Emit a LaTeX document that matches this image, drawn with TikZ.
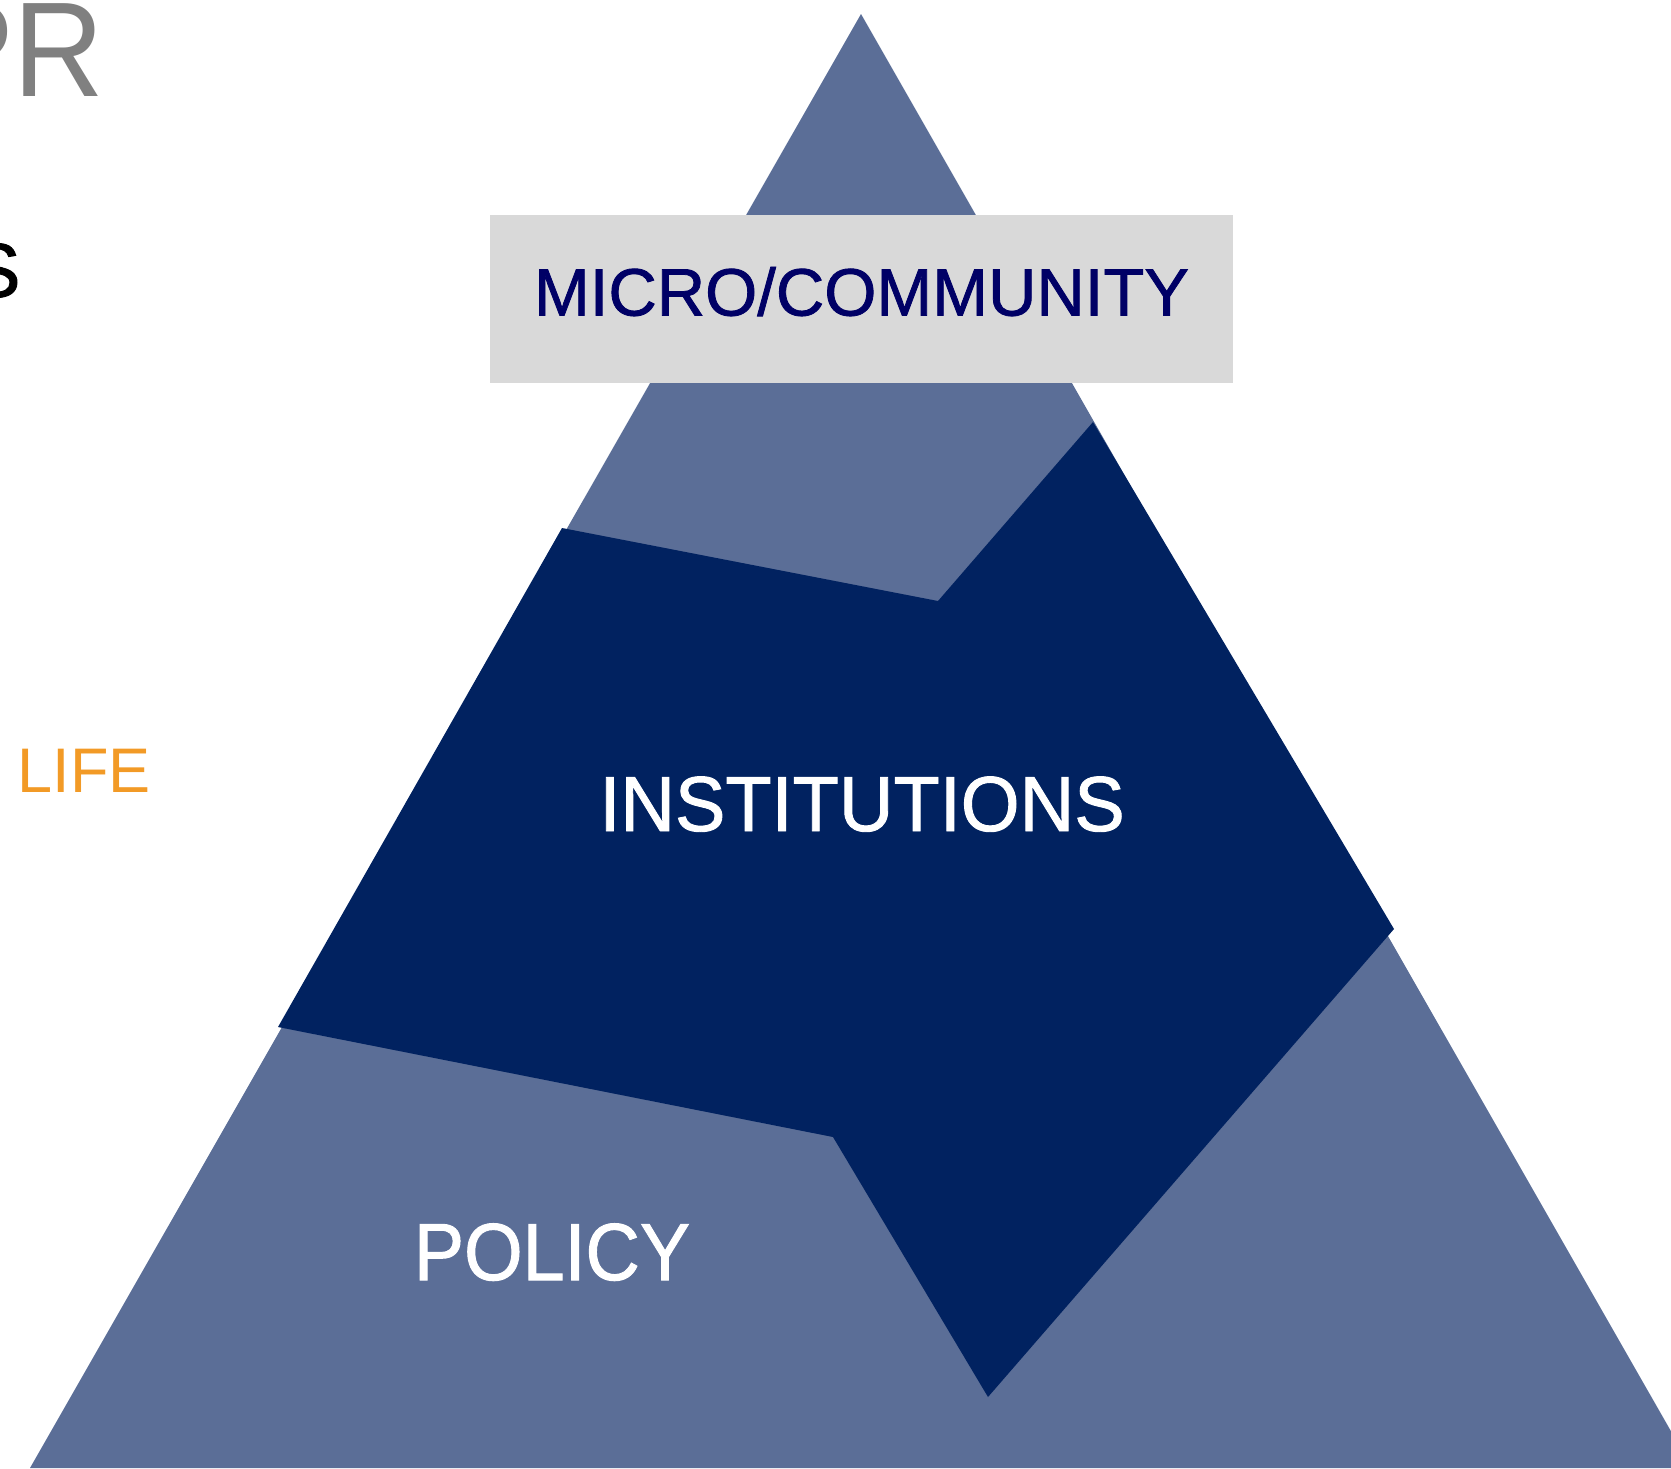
\documentclass[tikz,border=0pt]{standalone}
\usepackage{fontspec}
\setmainfont{Liberation Sans}
\newfontfamily\medsans{Liberation Sans}[FakeBold=1.2]

\definecolor{paleblue}{RGB}{91,110,151}
\definecolor{deepblue}{RGB}{1,34,96}
\definecolor{boxgrey}{RGB}{217,217,217}
\definecolor{microblue}{RGB}{0,0,102}
\definecolor{fadegrey}{RGB}{128,128,128}
\definecolor{lifeorange}{RGB}{242,154,38}

\begin{document}
\begin{tikzpicture}[x=1pt,y=-1pt,
  layer/.style={inner sep=0pt,anchor=base,text=white,transform shape},
  microbox/.style={fill=boxgrey,text=microblue,inner sep=0pt,
    minimum width=743pt,minimum height=168pt,
    text height=48pt,text depth=15pt,font=\medsans\fontsize{67}{67}\selectfont},
  edgetext/.style={inner sep=0pt,anchor=base west,transform shape}]

% frame of the slide crop
  \useasboundingbox (0,0) rectangle (1671,1468);
  \clip (0,0) rectangle (1671,1468);

% define the corners of the pyramid
  \coordinate (apex)  at (861,14);
  \coordinate (left)  at (30,1468);
  \coordinate (right) at (1692,1468);

% define the corners of the middle band
  \coordinate (b1) at (562,528);
  \coordinate (b2) at (938,601);
  \coordinate (b3) at (1093,422);
  \coordinate (b4) at (1394,929);
  \coordinate (b5) at (988,1397);
  \coordinate (b6) at (833,1137);
  \coordinate (b7) at (278,1027);

% draw the pyramid
  \fill[paleblue] (apex) -- (left) -- (right) -- cycle;
  \fill[deepblue] (b1) -- (b2) -- (b3) -- (b4) -- (b5) -- (b6) -- (b7) -- cycle;

% define the labels
  \node[microbox] (micro) at (861.5,299) {MICRO/COMMUNITY};
  \node[layer,font=\medsans\fontsize{78}{78}\selectfont,xscale=.97] (inst)
    at (862,831) {INSTITUTIONS};
  \node[layer,font=\medsans\fontsize{81}{81}\selectfont,xscale=.93] (policy)
    at (552,1280) {POLICY};

% words cut off at the left edge
  \node[edgetext,text=fadegrey,font=\fontsize{135}{135}\selectfont,xscale=.93] (pr)
    at (-70,96) {PR};
  \node[edgetext,text=black,font=\medsans\fontsize{77}{77}\selectfont] (s)
    at (-31,297) {S};
  \node[edgetext,text=lifeorange,font=\fontsize{63}{63}\selectfont] (life)
    at (17.4,792) {LIFE};

\end{tikzpicture}
\end{document}
